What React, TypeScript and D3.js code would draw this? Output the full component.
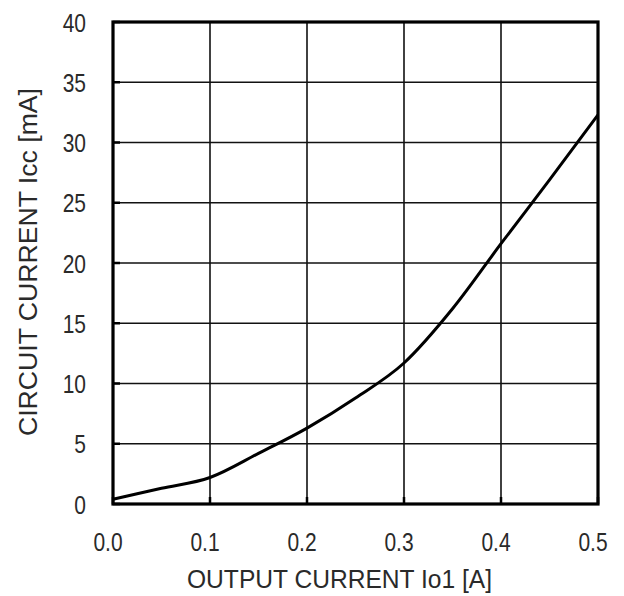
import React from "react";
import * as d3 from "d3";

const xValues = [0, 0.05, 0.1, 0.15, 0.2, 0.25, 0.3, 0.35, 0.4, 0.45, 0.5];
const yValues = [0.4, 1.3, 2.2, 4.2, 6.3, 8.8, 11.7, 16.2, 21.6, 26.9, 32.3];
const xTicks = [0, 0.1, 0.2, 0.3, 0.4, 0.5];
const yTicks = [0, 5, 10, 15, 20, 25, 30, 35, 40];
const xTitle = "OUTPUT CURRENT Io1 [A]";
const yTitle = "CIRCUIT CURRENT Icc [mA]";

export default function App() {
  const W = 624, H = 596;
  const left = 113, right = 598, top = 22, bottom = 504;
  const x = d3.scaleLinear().domain([0, 0.5]).range([left, right]);
  const y = d3.scaleLinear().domain([0, 40]).range([bottom, top]);
  const pts: [number, number][] = xValues.map((v, i) => [v, yValues[i]]);
  const line = d3.line<[number, number]>().x(d => x(d[0])).y(d => y(d[1])).curve(d3.curveMonotoneX);
  const font = "'Liberation Sans', Arial, sans-serif";
  const sx = 0.84;
  return (
    <svg width={W} height={H} style={{ position: "absolute", left: 0, top: 0 }}>
      <rect x={0} y={0} width={W} height={H} fill="#fff" />
      {xTicks.slice(1, -1).map(t => (
        <line key={"gx" + t} x1={x(t)} x2={x(t)} y1={top} y2={bottom} stroke="#111" strokeWidth={1.6} />
      ))}
      {yTicks.slice(1, -1).map(t => (
        <line key={"gy" + t} x1={left} x2={right} y1={y(t)} y2={y(t)} stroke="#111" strokeWidth={1.6} />
      ))}
      {yTicks.map(t => (
        <line key={"ty" + t} x1={left} x2={left + 7} y1={y(t)} y2={y(t)} stroke="#000" strokeWidth={2.5} />
      ))}
      {xTicks.map(t => (
        <line key={"tx" + t} x1={x(t)} x2={x(t)} y1={bottom} y2={bottom - 7} stroke="#000" strokeWidth={2.5} />
      ))}
      <rect x={left} y={top} width={right - left} height={bottom - top} fill="none" stroke="#000" strokeWidth={3.2} />
      <path d={line(pts) || ""} fill="none" stroke="#000" strokeWidth={3} />
      {yTicks.map(t => (
        <text key={"ly" + t} transform={`translate(86, ${y(t) + 9.5}) scale(${sx}, 1)`} textAnchor="end" fontFamily={font} fontSize={25} fill="#2a2a2a">{t}</text>
      ))}
      {xTicks.map(t => (
        <text key={"lx" + t} transform={`translate(${x(t) - 5}, 551) scale(${sx}, 1)`} textAnchor="middle" fontFamily={font} fontSize={25} fill="#2a2a2a">{t.toFixed(1)}</text>
      ))}
      <text x={187} y={588} textLength={305} lengthAdjust="spacingAndGlyphs" fontFamily={font} fontSize={25} fill="#2a2a2a">{xTitle}</text>
      <text transform={`translate(37, 436) rotate(-90)`} textLength={348} lengthAdjust="spacingAndGlyphs" fontFamily={font} fontSize={26} fill="#2a2a2a">{yTitle}</text>
    </svg>
  );
}
